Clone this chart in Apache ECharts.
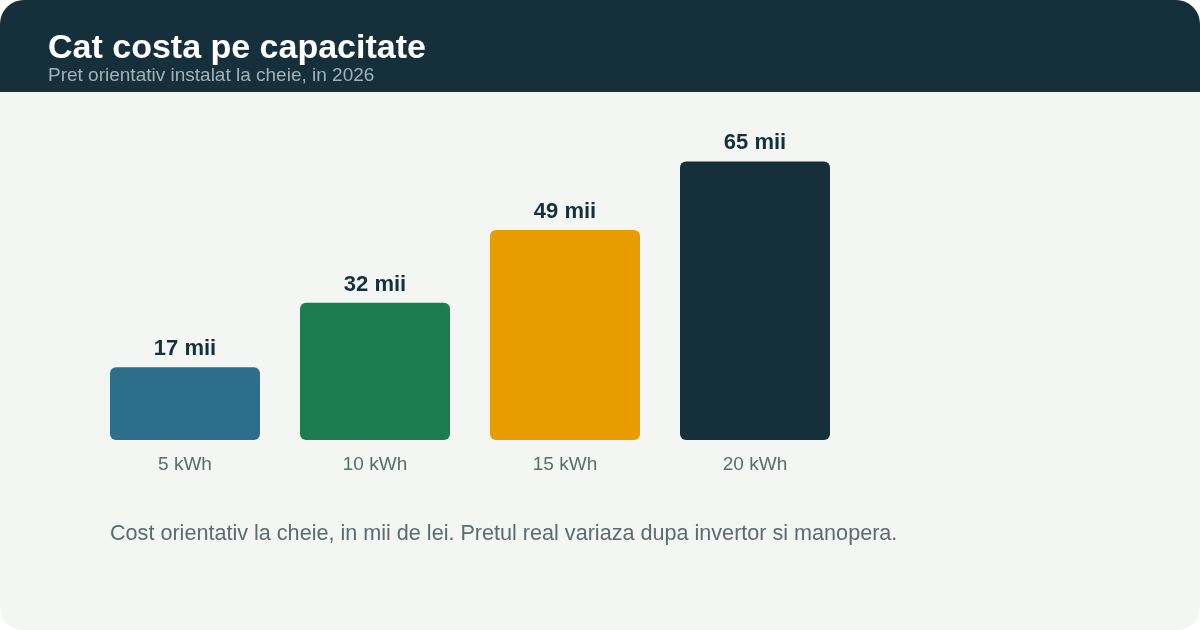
<!DOCTYPE html>
<html>
<head>
<meta charset="utf-8">
<script src="https://cdn.jsdelivr.net/npm/echarts@6/dist/echarts.min.js"></script>
<style>
html,body{margin:0;padding:0;background:#ffffff;}
#wrap{width:1200px;height:630px;border-radius:24px;overflow:hidden;background:#f3f6f3;}
#chart{width:1200px;height:630px;}
</style>
</head>
<body>
<div id="wrap"><div id="chart"></div></div>
<script>
const categories = ['5 kWh', '10 kWh', '15 kWh', '20 kWh'];
const costs = [17, 32, 49, 65];
const barColors = ['#2d6e8d', '#1b7d4f', '#e89c00', '#16303b'];
const titleText = 'Cat costa pe capacitate';
const subtitleText = 'Pret orientativ instalat la cheie, in 2026';
const footnote = 'Cost orientativ la cheie, in mii de lei. Pretul real variaza dupa invertor si manopera.';

const chart = echarts.init(document.getElementById('chart'));
const font = '"Liberation Sans", Arial, sans-serif';
chart.setOption({
  backgroundColor: '#f3f6f3',
  animation: false,
  textStyle: { fontFamily: font },
  graphic: [
    { type: 'rect', left: 0, top: 0, shape: { width: 1200, height: 92 }, style: { fill: '#16303b' }, z: 0 },
    { type: 'text', left: 48, top: 32, style: { text: titleText, fill: '#ffffff', font: 'bold 34px ' + font }, z: 2 },
    { type: 'text', left: 48, top: 66, style: { text: subtitleText, fill: '#9fb3b8', font: '19px ' + font }, z: 2 },
    { type: 'text', left: 110, top: 523, style: { text: footnote, fill: '#5b6b70', font: '21.6px ' + font }, z: 2 }
  ],
  grid: { left: 90, width: 760, top: 140, height: 300 },
  xAxis: {
    type: 'category',
    data: categories,
    axisLine: { show: false },
    axisTick: { show: false },
    axisLabel: { color: '#5b6b70', fontSize: 19, margin: 15, fontFamily: font }
  },
  yAxis: { type: 'value', min: 0, max: 70, show: false, splitLine: { show: false } },
  series: [{
    type: 'bar',
    barCategoryGap: '21.05%',
    data: costs.map((v, i) => ({ value: v, itemStyle: { color: barColors[i] } })),
    itemStyle: { borderRadius: 6 },
    label: {
      show: true,
      position: 'top',
      distance: 7,
      formatter: p => p.value + ' mii',
      color: '#16303b',
      fontSize: 22,
      fontWeight: 'bold',
      fontFamily: font
    }
  }]
});
</script>
</body>
</html>
